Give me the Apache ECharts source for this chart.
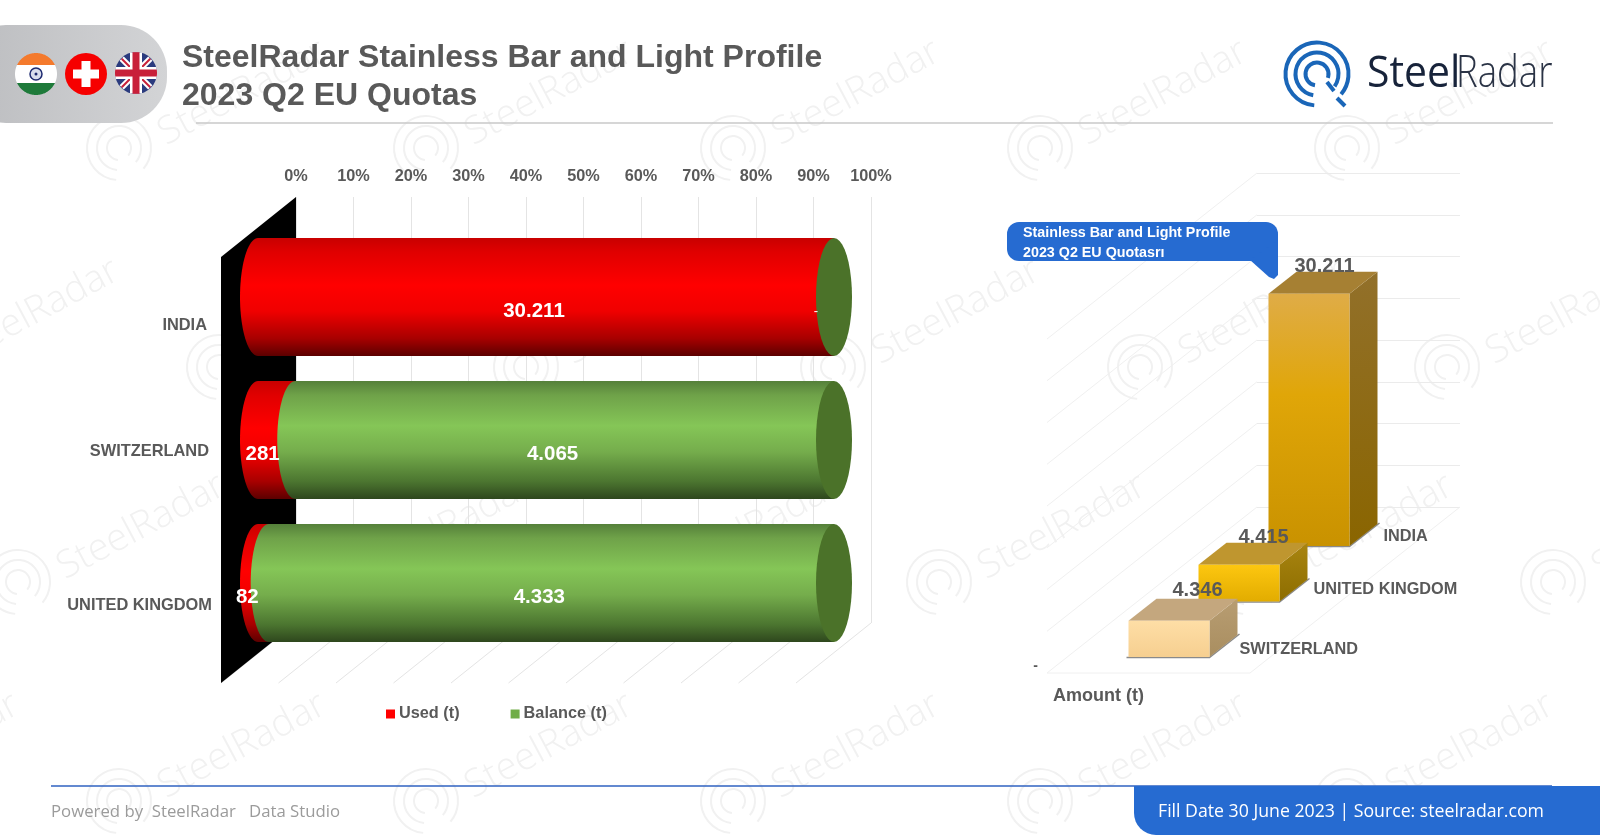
<!DOCTYPE html>
<html>
<head>
<meta charset="utf-8">
<style>html,body{margin:0;padding:0;background:#fff}#c{width:1600px;height:836px}</style>
<script src="https://cdn.jsdelivr.net/npm/echarts@6/dist/echarts.min.js"></script>
</head>
<body>
<div id="c"></div>
<script>
// ---------- data ----------
const categories = ['INDIA', 'SWITZERLAND', 'UNITED KINGDOM'];
const usedValues = [30211, 281, 82];
const balanceValues = [0, 4065, 4333];
const amountCategories = ['SWITZERLAND', 'UNITED KINGDOM', 'INDIA'];
const amountValues = [4346, 4415, 30211];
const percentTicks = [0, 10, 20, 30, 40, 50, 60, 70, 80, 90, 100];
const amountTicks = [0, 5000, 10000, 15000, 20000, 25000, 30000, 35000, 40000];

// ---------- styles ----------
const FONT = '"Liberation Sans", Arial, sans-serif';
const TXT = '#595959';
const WALL = '#e4e4e4';
const LG = echarts.graphic.LinearGradient;
const grad = (stops, horizontal) => new LG(0, 0, horizontal ? 1 : 0, horizontal ? 0 : 1,
  stops.map(s => ({offset: s[0], color: s[1]})));
const redFill = () => grad([[0,'#c80000'],[.12,'#e00000'],[.4,'#ff0000'],[.62,'#f00000'],[.85,'#a80000'],[1,'#5c0000']]);
const greenFill = () => grad([[0,'#55803a'],[.12,'#6fa249'],[.38,'#85c657'],[.6,'#75ad4c'],[.85,'#4c7630'],[1,'#2e471d']]);
const boxStyles = [
  {front:[[0,'#fedea6'],[1,'#f6cf90']], top:'#c4a77e', side:[[0,'#b89d72'],[1,'#a98e60']]},
  {front:[[0,'#fdc710'],[1,'#e2ac00']], top:'#bf962f', side:[[0,'#a98510'],[1,'#8d6d00']]},
  {front:[[0,'#dfac47'],[.4,'#e0a608'],[1,'#c99200']], top:'#a68033', side:[[0,'#92702a'],[1,'#8a6500']]}
];
const fmt = v => v === 0 ? '-' : String(v).replace(/\B(?=(\d{3})+$)/g, '.');
const ellipsePts = (cx, cy, rx, ry, a0, a1) => {
  const p = [];
  for (let i = 0; i <= 40; i++) {
    const a = (a0 + (a1 - a0) * i / 40) * Math.PI / 180;
    p.push([cx + rx * Math.cos(a), cy + ry * Math.sin(a)]);
  }
  return p;
};
const lbl = (x, y, text, fill, size, align, z2) => ({
  type: 'text', z2: z2 || 100,
  style: {x, y, text, fill, font: 'bold ' + size + 'px ' + FONT, align: align || 'center', verticalAlign: 'middle'}
});

// ---------- cylinder series ----------
const totals = categories.map((c, i) => usedValues[i] + balanceValues[i]);
const usedData = categories.map((c, i) => [i, 0, usedValues[i] / totals[i] * 100, usedValues[i]]);
const balanceData = categories.map((c, i) => [i, usedValues[i] / totals[i] * 100, 100, balanceValues[i]]);
const RX = 18, BAR_H = 118;
const usedLabelDx = [-12, -14, -16];
const balanceLabelDx = [-18, -12, -12];
function cylinder(fillFn, withCap, labelDx) {
  return function (params, api) {
    const i = api.value(0), v = api.value(3);
    const a = api.coord([api.value(1), i]), b = api.coord([api.value(2), i]);
    const cy = a[1], ry = BAR_H / 2, kids = [];
    if (v > 0) {
      const pts = [[b[0], cy - ry], [b[0], cy + ry]].concat(ellipsePts(a[0], cy, RX, ry, 90, 270));
      kids.push({type: 'polygon', z2: 5, shape: {points: pts}, style: {fill: fillFn()}});
    }
    if (withCap) {
      kids.push({type: 'polygon', z2: 6, shape: {points: ellipsePts(b[0], cy, RX, ry, 0, 360)}, style: {fill: '#4b7229'}});
    }
    const t = lbl((a[0] + b[0]) / 2 + labelDx[i], cy + 14, fmt(v), '#fff', 20.5);
    if (v === 0) t.style.font = '13px ' + FONT;
    kids.push(t);
    return {type: 'group', children: kids};
  };
}

// ---------- 3D wall of the left chart ----------
const LW = {dx: -75, dy: 60};
function leftWalls(params, api) {
  const t = api.value(0);
  const top = api.coord([t, 100]), bot = api.coord([t, 0]);
  const kids = [{type: 'line', shape: {x1: bot[0], y1: bot[1], x2: bot[0] + LW.dx, y2: bot[1] + LW.dy},
    style: {stroke: WALL, lineWidth: 1}}];
  if (t === 0) {
    kids.push({type: 'polygon', shape: {points: [top, [top[0] + LW.dx, top[1] + LW.dy],
      [bot[0] + LW.dx, bot[1] + LW.dy], bot]}, style: {fill: '#000'}});
  }
  return {type: 'group', children: kids};
}

// ---------- 3D wall of the right chart ----------
const RD = {dx: 210, dy: -166};
const SIDE = '#f0f0f0';
function rightWalls(params, api) {
  const t = api.value(0);
  const p = api.coord([0, t]);
  const kids = [{type: 'line', shape: {x1: p[0], y1: p[1], x2: p[0] + RD.dx, y2: p[1] + RD.dy},
    style: {stroke: SIDE, lineWidth: 1}}];
  if (t === 0) {
    const r = api.coord([1, 0]);
    kids.push({type: 'line', shape: {x1: p[0], y1: p[1], x2: r[0], y2: r[1]}, style: {stroke: SIDE, lineWidth: 1}});
    kids.push({type: 'line', shape: {x1: r[0], y1: r[1], x2: r[0] + RD.dx, y2: r[1] + RD.dy}, style: {stroke: SIDE, lineWidth: 1}});
  }
  return {type: 'group', children: kids};
}

// ---------- 3D boxes ----------
const BOX = {w: 81, dx: 28, dy: -22, step: 55.5, front: 150};
const boxLabelOffset = [{x: 30, y: -7}, {x: 34, y: -12}, {x: 34, y: -9}];
const boxValueOffset = [{x: 41, y: -8}, {x: 37, y: -5}, {x: 28, y: -5}];
function boxes(params, api) {
  const i = api.value(0), v = api.value(1);
  const shift = BOX.front - BOX.step * i;
  const cx = api.coord([i, 0])[0];
  const by = api.coord([i, 0])[1] + shift, ty = api.coord([i, v])[1] + shift;
  const l = cx - BOX.w / 2, r = cx + BOX.w / 2;
  const s = boxStyles[i];
  const zz = 30 - i * 10;
  return {type: 'group', children: [
    {type: 'polyline', z2: zz, shape: {points: [[l - 2, by + .5], [r, by + .5], [r + BOX.dx + 2, by + BOX.dy - 1]]},
      style: {stroke: '#8a8a8a', lineWidth: 1.5, fill: null}},
    {type: 'polygon', z2: zz + 1, shape: {points: [[r, ty], [r + BOX.dx, ty + BOX.dy], [r + BOX.dx, by + BOX.dy], [r, by]]},
      style: {fill: grad(s.side)}},
    {type: 'polygon', z2: zz + 1, shape: {points: [[l, ty], [l + BOX.dx, ty + BOX.dy], [r + BOX.dx, ty + BOX.dy], [r, ty]]},
      style: {fill: s.top}},
    {type: 'rect', z2: zz + 2, shape: {x: l, y: ty, width: BOX.w, height: by - ty}, style: {fill: grad(s.front)}},
    lbl(l + BOX.dx + boxValueOffset[i].x, ty + BOX.dy + boxValueOffset[i].y, fmt(v), TXT, 20),
    lbl(r + boxLabelOffset[i].x, by + boxLabelOffset[i].y, amountCategories[i], TXT, 16.3, 'left')
  ]};
}

// ---------- decoration ----------
const gfx = [];
const wmLight = '#f1f1f1';
const wmOffsets = [[119, 148], [219, 367], [18, 582], [119, 801]];
wmOffsets.forEach(r => {
  for (let k = -1; k < 6; k++) {
    const x = r[0] + 307 * k, y = r[1];
    [32, 22, 12].forEach(rad => gfx.push({type: 'arc', z: -5, silent: true,
      shape: {cx: x, cy: y, r: rad, startAngle: 95 * Math.PI / 180, endAngle: 400 * Math.PI / 180, clockwise: true},
      style: {stroke: wmLight, lineWidth: 2, fill: null}}));
    gfx.push({type: 'text', z: -5, silent: true, x: x + 42, y: y - 12, rotation: 28 * Math.PI / 180,
      style: {text: 'SteelRadar', font: '300 38px "Open Sans", sans-serif', fill: wmLight, align: 'left', verticalAlign: 'middle'}});
  }
});
// header
gfx.push({type: 'rect', z: 10, shape: {x: -40, y: 25, width: 207, height: 98, r: 46},
  style: {fill: new LG(0, 0, 1, 0, [{offset: 0, color: '#bbbcbf'}, {offset: 1, color: '#d3d4d6'}])}});
gfx.push({type: 'line', z: 9, shape: {x1: 196, y1: 123, x2: 1553, y2: 123}, style: {stroke: '#c9c9c9', lineWidth: 1.5}});
gfx.push({type: 'text', z: 10, x: 182, y: 58, style: {text: 'SteelRadar Stainless Bar and Light Profile', font: 'bold 32px ' + FONT, fill: TXT, align: 'left', verticalAlign: 'middle'}});
gfx.push({type: 'text', z: 10, x: 182, y: 96, style: {text: '2023 Q2 EU Quotas', font: 'bold 32px ' + FONT, fill: TXT, align: 'left', verticalAlign: 'middle'}});
// flags
const chord = (cx, cy, r, y0, y1) => {
  const a0 = Math.asin(Math.max(-1, Math.min(1, (y0 - cy) / r))) * 180 / Math.PI;
  const a1 = Math.asin(Math.max(-1, Math.min(1, (y1 - cy) / r))) * 180 / Math.PI;
  return ellipsePts(cx, cy, r, r, a0, a1).concat(ellipsePts(cx, cy, r, r, 180 - a1, 180 - a0));
};
const fl = (type, shape, style) => gfx.push({type, z: 11, shape, style});
(function () {
  const cx = 36, cy = 74, r = 21;
  fl('polygon', {points: chord(cx, cy, r, cy - r, cy - 9)}, {fill: '#f47a2d'});
  fl('polygon', {points: chord(cx, cy, r, cy - 9, cy + 9)}, {fill: '#ffffff'});
  fl('polygon', {points: chord(cx, cy, r, cy + 9, cy + r)}, {fill: '#1e7a3a'});
  fl('circle', {cx, cy, r: 6}, {fill: '#d8dcec', stroke: '#1d2a70', lineWidth: 1.5});
  fl('circle', {cx, cy, r: 1.5}, {fill: '#1d2a70'});
})();
(function () {
  const cx = 86, cy = 74, r = 21;
  fl('circle', {cx, cy, r}, {fill: '#f60000'});
  fl('rect', {x: cx - 4.5, y: cy - 13, width: 9, height: 26}, {fill: '#fff'});
  fl('rect', {x: cx - 13, y: cy - 4.5, width: 26, height: 9}, {fill: '#fff'});
})();
(function () {
  const cx = 136, cy = 73, r = 21, d = r * .68;
  fl('circle', {cx, cy, r}, {fill: '#2b3b7e'});
  [[-d, -d, d, d], [-d, d, d, -d]].forEach(p => {
    fl('line', {x1: cx + p[0], y1: cy + p[1], x2: cx + p[2], y2: cy + p[3]}, {stroke: '#fff', lineWidth: 6});
    fl('line', {x1: cx + p[0], y1: cy + p[1], x2: cx + p[2], y2: cy + p[3]}, {stroke: '#c8203a', lineWidth: 2});
  });
  fl('polygon', {points: chord(cx, cy, r, cy - 6, cy + 6)}, {fill: '#fff'});
  fl('rect', {x: cx - 6, y: cy - r + .5, width: 12, height: 2 * r - 1}, {fill: '#fff'});
  fl('polygon', {points: chord(cx, cy, r, cy - 3.5, cy + 3.5)}, {fill: '#c8203a'});
  fl('rect', {x: cx - 3.5, y: cy - r + .2, width: 7, height: 2 * r - .4}, {fill: '#c8203a'});
})();
// logo
[[31.5, 95, 400], [21.5, 100, 395], [11.5, 100, 380]].forEach(a => gfx.push({type: 'arc', z: 11,
  shape: {cx: 1317, cy: 74, r: a[0], startAngle: a[1] * Math.PI / 180, endAngle: a[2] * Math.PI / 180, clockwise: true},
  style: {stroke: '#1a66b8', lineWidth: 4, fill: null}}));
gfx.push({type: 'line', z: 11, shape: {x1: 1337, y1: 98, x2: 1345, y2: 106}, style: {stroke: '#1a66b8', lineWidth: 4}});
gfx.push({type: 'line', z: 11, shape: {x1: 1327, y1: 82, x2: 1334, y2: 91}, style: {stroke: '#1a66b8', lineWidth: 4}});
gfx.push({type: 'text', z: 11, x: 1367, y: 74, scaleX: .93, style: {text: 'Steel', font: '400 44px "Open Sans", sans-serif', fill: '#17233a', align: 'left', verticalAlign: 'middle'}});
gfx.push({type: 'text', z: 11, x: 1456, y: 74, scaleX: .83, style: {text: 'Radar', font: '300 44px "Open Sans", sans-serif', fill: '#2a3345', align: 'left', verticalAlign: 'middle'}});
// callout
gfx.push({type: 'rect', z: 12, shape: {x: 1007, y: 222, width: 271, height: 39, r: [12, 12, 0, 12]}, style: {fill: '#266bd1'}});
gfx.push({type: 'polygon', z: 12, shape: {points: [[1250, 260], [1278, 240], [1278, 275], [1274, 279], [1269, 277]]}, style: {fill: '#266bd1'}});
gfx.push({type: 'text', z: 13, x: 1023, y: 233.5, style: {text: 'Stainless Bar and Light Profile', font: 'bold 14.3px ' + FONT, fill: '#fff', align: 'left', verticalAlign: 'middle'}});
gfx.push({type: 'text', z: 13, x: 1023, y: 253, style: {text: '2023 Q2 EU Quotasrı', font: 'bold 14.3px ' + FONT, fill: '#fff', align: 'left', verticalAlign: 'middle'}});
// footer
gfx.push({type: 'line', z: 9, shape: {x1: 51, y1: 786, x2: 1552, y2: 786}, style: {stroke: '#2f62c0', lineWidth: 1.5}});
gfx.push({type: 'rect', z: 10, shape: {x: 1134, y: 786, width: 480, height: 49, r: [0, 0, 0, 22]}, style: {fill: '#266bd1'}});
gfx.push({type: 'text', z: 11, x: 1158, y: 812, style: {text: 'Fill Date 30 June 2023 | Source: steelradar.com', font: '17.7px "Open Sans", sans-serif', fill: '#fff', align: 'left', verticalAlign: 'middle'}});
gfx.push({type: 'text', z: 11, x: 51, y: 812, style: {text: 'Powered by  SteelRadar   Data Studio', font: '16.75px "Open Sans", sans-serif', fill: '#9b9b9b', align: 'left', verticalAlign: 'middle'}});

// ---------- chart ----------
const axisLabelOffsets = [{top: 56, right: 5}, {top: 22, right: 3}, {top: 44, right: 0}];
const rich = {};
axisLabelOffsets.forEach((o, i) => {
  rich['c' + i] = {fontFamily: FONT, fontWeight: 'bold', fontSize: 16.4, color: TXT, padding: [o.top, o.right, 0, 0]};
});

const chart = echarts.init(document.getElementById('c'), null, {renderer: 'canvas'});
chart.setOption({
  animation: false,
  backgroundColor: '#ffffff',
  textStyle: {fontFamily: FONT},
  graphic: {elements: gfx},
  legend: {
    data: ['Used (t)', 'Balance (t)'], left: 381, top: 701, icon: 'rect', itemWidth: 9, itemHeight: 9, itemGap: 51,
    textStyle: {fontFamily: FONT, fontWeight: 'bold', fontSize: 16.3, color: TXT, padding: [0, 0, 0, -1]}
  },
  grid: [
    {left: 296, top: 197, width: 575, height: 426},
    {left: 258, top: 225.5, width: 576, height: 429},
    {left: 1257, top: 173, width: 203, height: 334},
    {left: 1047, top: 339, width: 203, height: 334},
    {left: 1134, top: 173, width: 210, height: 334}
  ],
  xAxis: [
    {gridIndex: 0, type: 'value', position: 'top', min: 0, max: 100, interval: 10,
      axisLine: {show: false}, axisTick: {show: false},
      axisLabel: {formatter: '{value}%', margin: 12, color: TXT, fontFamily: FONT, fontWeight: 'bold', fontSize: 16.3},
      splitLine: {show: true, lineStyle: {color: WALL, width: 1}}},
    {gridIndex: 1, type: 'value', min: 0, max: 100, show: false},
    {gridIndex: 2, type: 'value', min: 0, max: 1, show: false},
    {gridIndex: 3, type: 'value', min: 0, max: 1, show: false},
    {gridIndex: 4, type: 'category', data: amountCategories, show: false}
  ],
  yAxis: [
    {gridIndex: 0, type: 'value', min: 0, max: 100, show: false},
    {gridIndex: 1, type: 'category', inverse: true, data: categories,
      axisLine: {show: false}, axisTick: {show: false},
      axisLabel: {margin: 46, rich: rich, formatter: (v, i) => '{c' + i + '|' + v + '}'}},
    {gridIndex: 2, type: 'value', min: 0, max: 40000, interval: 5000,
      axisLine: {show: false}, axisTick: {show: false}, axisLabel: {show: false},
      splitLine: {show: true, lineStyle: {color: '#ebebeb', width: 1}}},
    {gridIndex: 3, type: 'value', min: 0, max: 40000, interval: 5000,
      name: 'Amount (t)', nameLocation: 'start', nameGap: 14,
      nameTextStyle: {fontFamily: FONT, fontWeight: 'bold', fontSize: 18, color: TXT, align: 'left', padding: [0, 0, 0, 6]},
      axisLine: {show: false}, axisTick: {show: false}, splitLine: {show: false},
      axisLabel: {margin: 9, color: TXT, fontFamily: FONT, fontWeight: 'bold', fontSize: 14,
        formatter: v => v === 0 ? '-' : '', verticalAlign: 'bottom'}},
    {gridIndex: 4, type: 'value', min: 0, max: 40000, show: false}
  ],
  series: [
    {type: 'custom', name: 'walls', xAxisIndex: 0, yAxisIndex: 0, z: 1, silent: true, clip: false,
      data: percentTicks.map(t => [t]), encode: {x: 0}, renderItem: leftWalls},
    {type: 'custom', name: 'Used (t)', xAxisIndex: 1, yAxisIndex: 1, z: 3, clip: false,
      itemStyle: {color: '#ff0000'}, data: usedData, encode: {x: [1, 2], y: 0}, renderItem: cylinder(redFill, false, usedLabelDx)},
    {type: 'custom', name: 'Balance (t)', xAxisIndex: 1, yAxisIndex: 1, z: 3, clip: false,
      itemStyle: {color: '#70ad47'}, data: balanceData, encode: {x: [1, 2], y: 0}, renderItem: cylinder(greenFill, true, balanceLabelDx)},
    {type: 'custom', name: 'sidewall', xAxisIndex: 3, yAxisIndex: 3, z: 1, silent: true, clip: false,
      data: amountTicks.map(t => [t]), encode: {y: 0}, renderItem: rightWalls},
    {type: 'custom', name: 'Amount (t)', xAxisIndex: 4, yAxisIndex: 4, z: 3, clip: false,
      data: amountCategories.map((c, i) => [i, amountValues[i]]), encode: {x: 0, y: 1}, renderItem: boxes}
  ]
});
</script>
</body>
</html>
